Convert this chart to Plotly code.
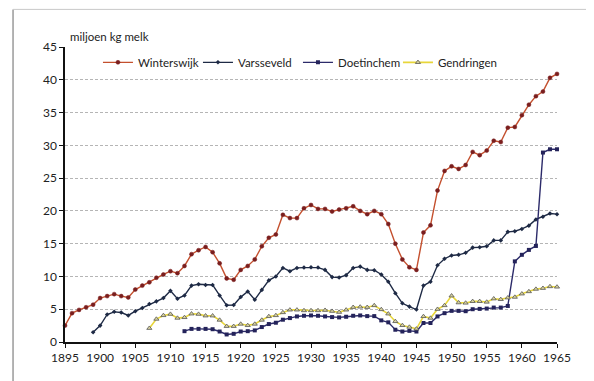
import plotly.graph_objects as go

years_w = list(range(1895, 1966))
winterswijk = [2.5, 4.4, 4.9, 5.3, 5.7, 6.7, 7.0, 7.3, 7.0, 6.8,
               8.0, 8.6, 9.1, 9.8, 10.3, 10.8, 10.5, 11.6, 13.4, 14.0,
               14.5, 13.7, 12.0, 9.7, 9.5, 11.0, 11.6, 12.6, 14.6, 15.9,
               16.4, 19.4, 18.9, 18.9, 20.4, 20.9, 20.3, 20.3, 19.9, 20.2,
               20.4, 20.7, 20.0, 19.5, 20.0, 19.5, 18.0, 15.0, 12.6, 11.4,
               11.0, 16.7, 17.8, 23.1, 26.1, 26.8, 26.4, 27.0, 29.0, 28.5,
               29.2, 30.7, 30.5, 32.7, 32.8, 34.6, 36.2, 37.5, 38.2, 40.3, 40.9]

years_v = list(range(1899, 1966))
varsseveld = [1.5, 2.5, 4.2, 4.6, 4.5, 4.05, 4.7, 5.2, 5.8, 6.2,
              6.7, 7.8, 6.6, 7.1, 8.6, 8.8, 8.7, 8.7, 7.1, 5.6,
              5.65, 6.85, 7.7, 6.45, 7.95, 9.4, 10.0, 11.3, 10.8, 11.3,
              11.35, 11.4, 11.35, 11.0, 9.9, 9.85, 10.2, 11.3, 11.5, 11.0,
              10.95, 10.3, 9.2, 7.45, 5.9, 5.4, 4.95, 8.6, 9.2, 11.7,
              12.7, 13.2, 13.3, 13.6, 14.4, 14.45, 14.6, 15.5, 15.5, 16.8,
              16.9, 17.25, 17.75, 18.7, 19.1, 19.6, 19.5]

years_d = list(range(1912, 1966))
doetinchem = [1.65, 2.0, 2.0, 2.0, 1.95, 1.6, 1.15, 1.25, 1.6, 1.65,
              1.77, 2.28, 2.74, 2.94, 3.4, 3.65, 3.9, 4.0, 4.05, 4.0,
              3.9, 3.8, 3.75, 3.85, 4.0, 4.05, 3.95, 3.95, 3.3, 3.0,
              1.87, 1.6, 1.7, 1.6, 2.9, 2.9, 3.9, 4.4, 4.75, 4.75,
              4.7, 5.0, 5.05, 5.1, 5.25, 5.25, 5.5, 12.3, 13.3, 14.05,
              14.65, 28.9, 29.4, 29.4]

years_g = list(range(1907, 1966))
gendringen = [2.1, 3.5, 4.05, 4.25, 3.65, 3.75, 4.3, 4.25, 4.0, 4.0,
              3.35, 2.4, 2.4, 2.74, 2.53, 2.74, 3.35, 3.9, 4.05, 4.5,
              4.9, 4.9, 4.8, 4.8, 4.8, 4.85, 4.7, 4.55, 4.9, 5.3,
              5.35, 5.3, 5.57, 4.96, 4.3, 3.14, 2.53, 2.28, 2.0, 3.9,
              3.65, 5.0, 5.57, 7.05, 6.0, 5.95, 6.2, 6.2, 6.1, 6.6,
              6.5, 6.75, 6.85, 7.35, 7.7, 8.07, 8.2, 8.46, 8.4]

x_ticks = list(range(1895, 1966, 5))
y_ticks = list(range(0, 46, 5))

fig = go.Figure()

fig.add_trace(go.Scatter(
    x=years_w, y=winterswijk, name="Winterswijk", mode="lines+markers",
    line=dict(color="#C4502E", width=1.4),
    marker=dict(symbol="circle", size=4, color="#7A1E1E",
                line=dict(color="#7A1E1E", width=0.5)),
    cliponaxis=False))
fig.add_trace(go.Scatter(
    x=years_v, y=varsseveld, name="Varsseveld", mode="lines+markers",
    line=dict(color="#1E2A45", width=1.4),
    marker=dict(symbol="diamond", size=3.5, color="#1E2A45"),
    cliponaxis=False))
fig.add_trace(go.Scatter(
    x=years_d, y=doetinchem, name="Doetinchem", mode="lines+markers",
    line=dict(color="#2C2B6A", width=1.4),
    marker=dict(symbol="square", size=4, color="#24235A"),
    cliponaxis=False))
fig.add_trace(go.Scatter(
    x=years_g, y=gendringen, name="Gendringen", mode="lines+markers",
    line=dict(color="#E8D63A", width=1.6),
    marker=dict(symbol="triangle-up", size=4.5, color="#D9D3A0",
                line=dict(color="#555555", width=0.8)),
    cliponaxis=False))

fig.update_layout(
    width=586, height=373,
    paper_bgcolor="white", plot_bgcolor="white",
    margin=dict(l=57, r=36.5, t=38.7, b=38.7),
    font=dict(family="Lato, Open Sans, sans-serif", size=12, color="#222222"),
    showlegend=True,
    legend=dict(orientation="h", x=0.067, y=0.948, xanchor="left", yanchor="middle",
                bgcolor="rgba(0,0,0,0)", entrywidth=55, entrywidthmode="pixels",
                font=dict(size=11.5, color="#222222"), itemwidth=30, tracegroupgap=0),
    annotations=[dict(text="miljoen kg melk", xref="paper", yref="paper",
                      x=0, y=1, xshift=3, yshift=2, xanchor="left", yanchor="bottom",
                      showarrow=False, font=dict(size=11.5, color="#222222"))],
    shapes=[
        dict(type="line", xref="paper", yref="paper", x0=-0.1056, x1=-0.1056,
             y0=-0.15, y1=1.1275, line=dict(color="#9a9a9a", width=1.5)),
        dict(type="line", xref="paper", yref="paper", x0=-0.1056, x1=1.08,
             y0=1.1275, y1=1.1275, line=dict(color="#c8c8c8", width=1)),
    ],
)

fig.update_xaxes(range=[1895, 1965], tickvals=x_ticks, ticktext=[str(t) for t in x_ticks],
                 showgrid=False, zeroline=False, showline=True, linecolor="#111111",
                 linewidth=1.5, ticks="outside", ticklen=4, tickcolor="#111111",
                 tickfont=dict(size=12))
fig.update_yaxes(range=[0, 45], tickvals=y_ticks, showgrid=True, gridcolor="#b5b5b5",
                 griddash="3px,2px", gridwidth=1, zeroline=False, showline=True,
                 linecolor="#111111", linewidth=1.5, ticks="outside", ticklen=4,
                 tickcolor="#111111", tickfont=dict(size=12))

fig.write_html("out.html")
